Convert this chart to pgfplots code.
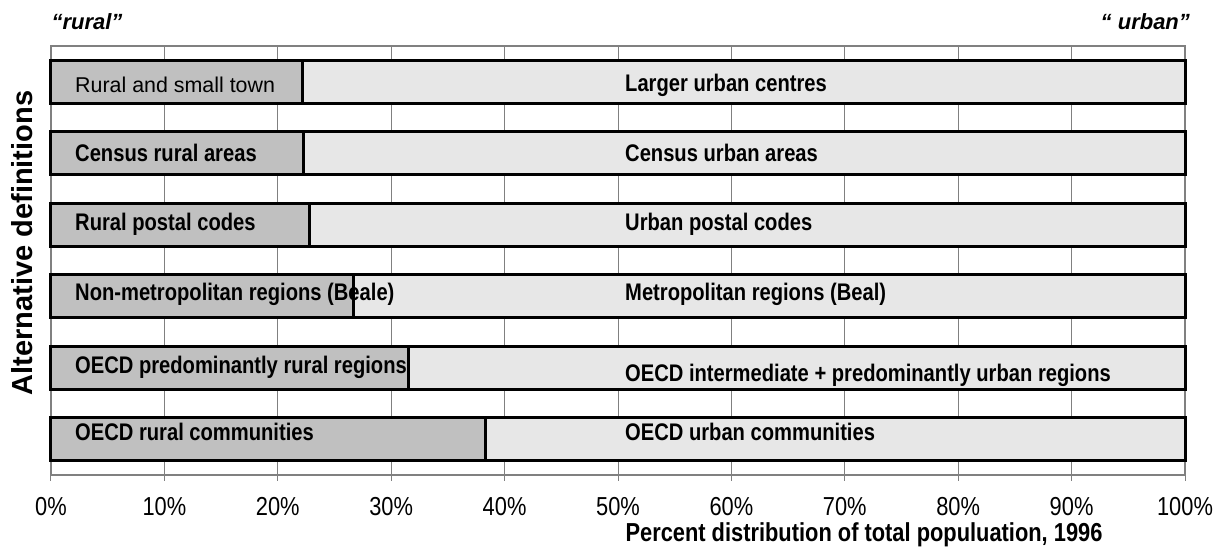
\documentclass[border=0pt]{standalone}
\usepackage{pgfplots}
\pgfplotsset{compat=1.18}
\usepackage{fontspec}
\setmainfont{Liberation Sans}
\newfontfamily\condfont{Liberation Sans}[FakeStretch=0.84]
\newfontfamily\tickfont{Liberation Sans}[FakeStretch=0.84]
\definecolor{ruralc}{HTML}{C0C0C0}
\definecolor{urbanc}{HTML}{E7E7E7}
\definecolor{gridc}{HTML}{808080}
\newcommand{\blab}{\condfont\bfseries\fontsize{12}{14}\selectfont}
\begin{document}
\begin{tikzpicture}
\path[use as bounding box] (-25.5pt,-40.5pt) rectangle (586pt,237.5pt);
\begin{axis}[
  at={(0,0)}, anchor=south west, scale only axis,
  width=567pt, height=214.5pt,
  xbar stacked, bar width=0.6,
  xmin=0, xmax=100, ymin=0, ymax=6,
  xtick={0,10,20,30,40,50,60,70,80,90,100},
  xticklabels={0\%,10\%,20\%,30\%,40\%,50\%,60\%,70\%,80\%,90\%,100\%},
  xticklabel style={font=\tickfont\fontsize{13}{15}\selectfont, yshift=-4.5pt},
  ytick=\empty,
  xmajorgrids, grid style={gridc, line width=0.5pt},
  axis line style={gridc, line width=1pt},
  tick style={gridc, line width=0.5pt},
  xtick pos=bottom, tick align=outside, major tick length=3pt,
  clip=false,
]
\addplot[fill=ruralc, draw=black, line width=1.5pt] coordinates {(22.2,5.5) (22.3,4.5) (22.8,3.5) (26.7,2.5) (31.5,1.5) (38.3,0.5)};
\addplot[fill=urbanc, draw=black, line width=1.5pt] coordinates {(77.8,5.5) (77.7,4.5) (77.2,3.5) (73.3,2.5) (68.5,1.5) (61.7,0.5)};
\coordinate (r1) at (axis cs:2.1,5.45);
\coordinate (r2) at (axis cs:2.1,4.5);
\coordinate (r3) at (axis cs:2.1,3.5);
\coordinate (r4) at (axis cs:2.1,2.53);
\coordinate (r5) at (axis cs:2.1,1.5);
\coordinate (r6) at (axis cs:2.1,0.6);
\coordinate (u1) at (axis cs:50.6,5.45);
\coordinate (u2) at (axis cs:50.6,4.5);
\coordinate (u3) at (axis cs:50.6,3.5);
\coordinate (u4) at (axis cs:50.6,2.53);
\coordinate (u5) at (axis cs:50.6,1.39);
\coordinate (u6) at (axis cs:50.6,0.6);
\end{axis}
\tikzset{lab/.style={anchor=west, inner sep=0pt}}
\node[lab, font=\fontsize{10.7}{13}\selectfont] at (r1) {Rural and small town};
\node[lab, font=\blab] at (r2) {Census rural areas};
\node[lab, font=\blab] at (r3) {Rural postal codes};
\node[lab, font=\blab] at (r4) {Non-metropolitan regions (Beale)};
\node[lab, font=\blab] at (r5) {OECD predominantly rural regions};
\node[lab, font=\blab] at (r6) {OECD rural communities};
\node[lab, font=\blab] at (u1) {Larger urban centres};
\node[lab, font=\blab] at (u2) {Census urban areas};
\node[lab, font=\blab] at (u3) {Urban postal codes};
\node[lab, font=\blab] at (u4) {Metropolitan regions (Beal)};
\node[lab, font=\blab] at (u5) {OECD intermediate + predominantly urban regions};
\node[lab, font=\blab] at (u6) {OECD urban communities};
\node[font=\bfseries\fontsize{14.5}{16}\selectfont, rotate=90] at (-14.5pt,116pt) {Alternative definitions};
\node[font=\bfseries\itshape\fontsize{11}{13}\selectfont] at (18pt,226.5pt) {“rural”};
\node[anchor=east, font=\bfseries\itshape\fontsize{11}{13}\selectfont] at (573pt,226.5pt) {“ urban”};
\node[font=\condfont\bfseries\fontsize{13}{15}\selectfont] at (406.5pt,-30pt) {Percent distribution of total populuation, 1996};
\end{tikzpicture}
\end{document}
